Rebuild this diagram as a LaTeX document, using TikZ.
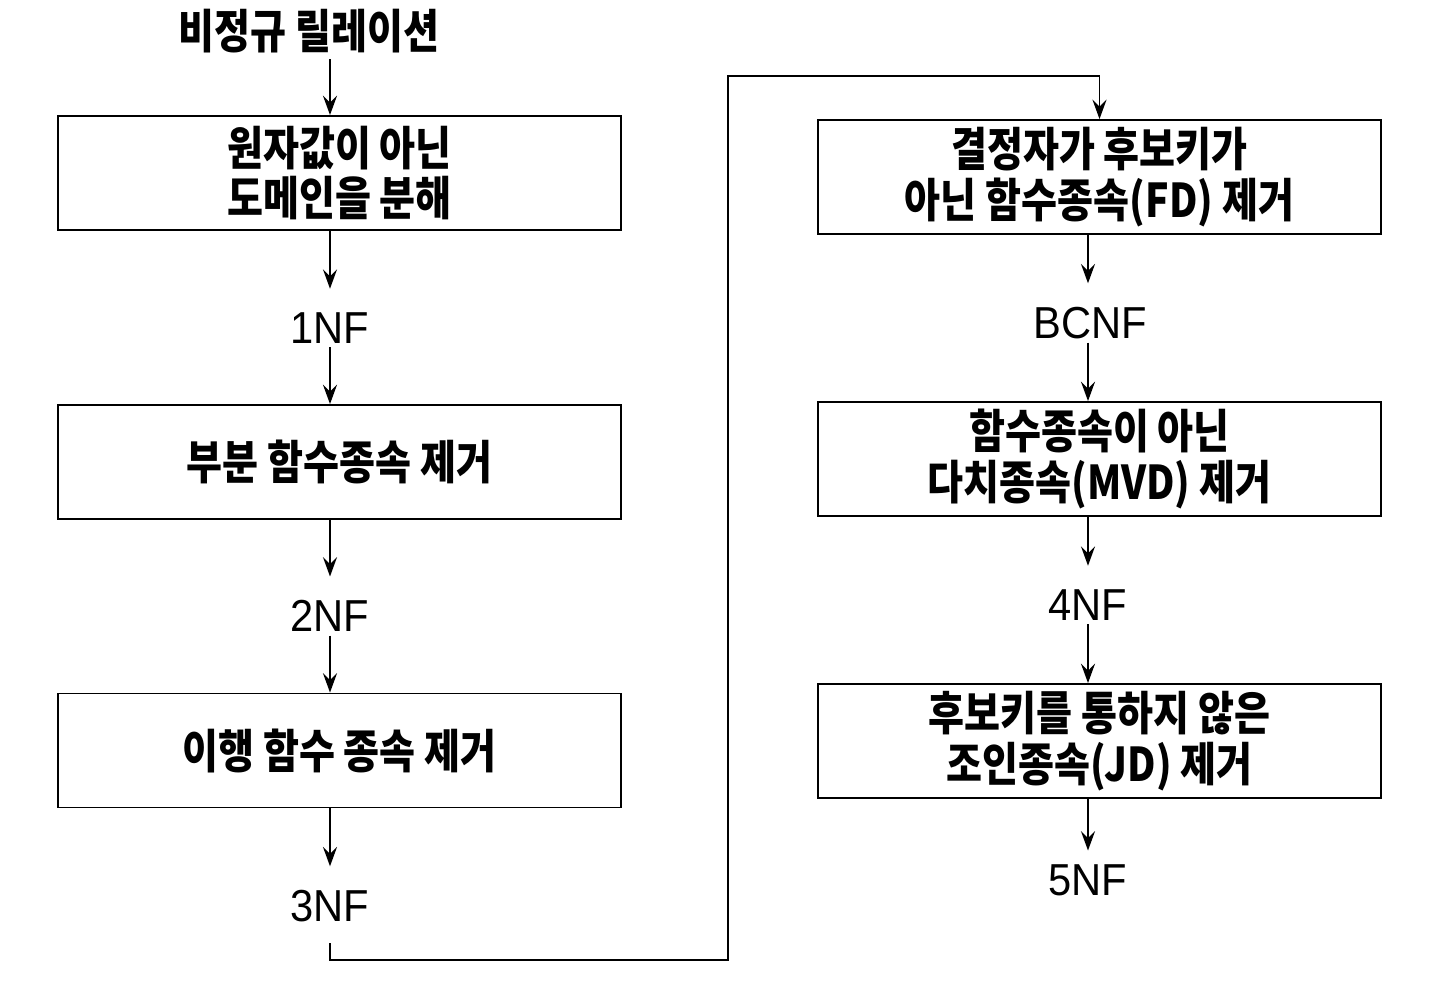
\documentclass[tikz,border=0pt]{standalone}
\usepackage{fontspec}
\usetikzlibrary{arrows.meta}
\setmainfont{Liberation Sans}[FakeStretch=0.93]
\newfontfamily\krfont{Noto Sans CJK KR}[FakeStretch=0.84]
\newcommand{\krbox}{\krfont\bfseries\fontsize{26.5}{29}\selectfont}
\newcommand{\nflabel}{\fontsize{25.5}{30}\selectfont}

\begin{document}
\begin{tikzpicture}[x=0.02cm,y=-0.02cm,
  stepbox/.style={draw,line width=1.1pt,minimum width=11.26cm,minimum height=2.28cm,align=center,font=\krbox},
  nf/.style={inner sep=2pt,font=\nflabel},
  flow/.style={line width=0.8pt,-{Stealth[length=11pt,width=8pt,inset=4pt]}},
  tonf/.style={flow,shorten >=0.4cm}]
\useasboundingbox (0,0) rectangle (1444,1000);

% start node
\node[font=\krbox] (title) at (309,31) {비정규 릴레이션};

% left column
\node[stepbox] (decomp) at (339.5,173) {원자값이 아닌\\도메인을 분해};
\node[nf] (onenf) at (330,328) {1NF};
\node[stepbox] (partial) at (339.5,462) {부분 함수종속 제거};
\node[nf] (twonf) at (330,616) {2NF};
\node[stepbox] (transitive) at (339.5,750.5) {이행 함수 종속 제거};
\node[nf] (threenf) at (330,906) {3NF};

\draw[flow] (title.south -| onenf) -- (onenf |- decomp.north);
\draw[tonf] (decomp.south -| onenf) -- (onenf);
\draw[flow] (onenf) -- (onenf |- partial.north);
\draw[tonf] (partial.south -| twonf) -- (twonf);
\draw[flow] (twonf) -- (twonf |- transitive.north);
\draw[tonf] (transitive.south -| threenf) -- (threenf);

% right column
\node[stepbox] (fd) at (1099.5,177) {결정자가 후보키가\\아닌 함수종속(FD) 제거};
\node[nf] (bcnf) at (1090,323) {BCNF};
\node[stepbox] (mvd) at (1099.5,459) {함수종속이 아닌\\다치종속(MVD) 제거};
\node[nf] (fournf) at (1088,605) {4NF};
\node[stepbox] (jd) at (1099.5,741) {후보키를 통하지 않은\\조인종속(JD) 제거};
\node[nf] (fivenf) at (1088,880) {5NF};

\draw[tonf] (fd.south -| fournf) -- (fournf |- bcnf.north);
\draw[flow] (bcnf.south -| fournf) -- (fournf |- mvd.north);
\draw[tonf] (mvd.south -| fournf) -- (fournf);
\draw[flow] (fournf) -- (fournf |- jd.north);
\draw[tonf,shorten >=0.2cm] (jd.south -| fivenf) -- (fivenf);

% link from 3NF to the right column
\coordinate (loopb) at (728,960);
\coordinate (loopt) at (728,76);
\draw[flow,shorten <=0.35cm] (threenf.south) |- (loopb) -- (loopt) -| (fd.north);

\end{tikzpicture}
\end{document}
